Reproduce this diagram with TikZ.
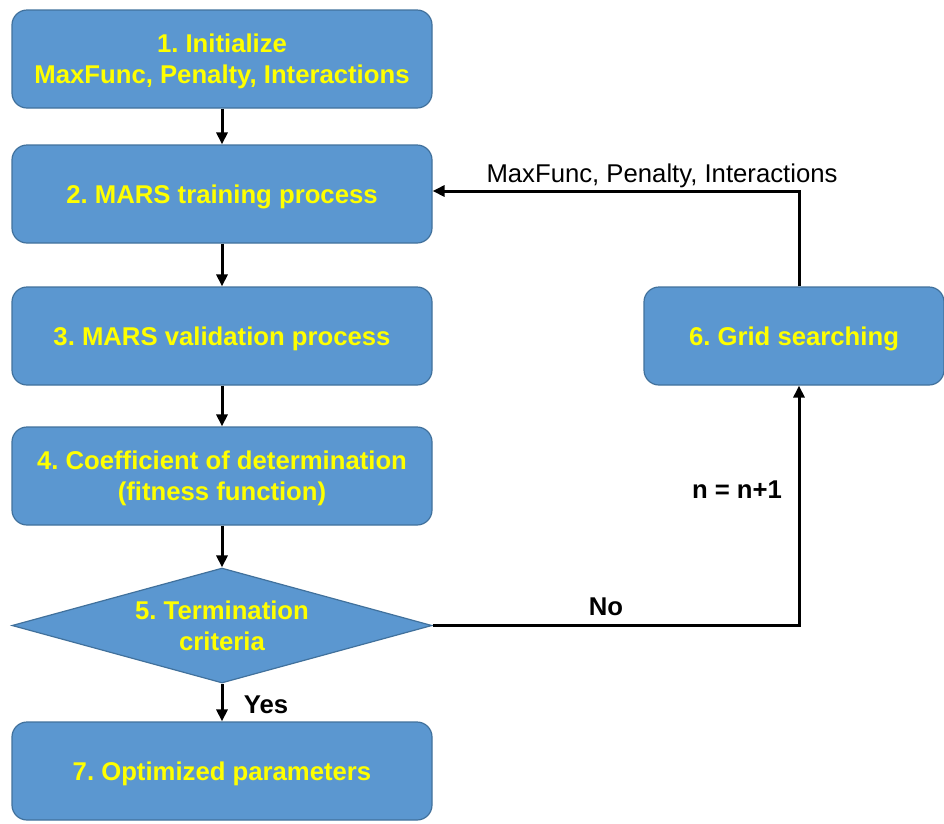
\documentclass[tikz,border=0pt]{standalone}
\usepackage{fontspec}
\setmainfont{Liberation Sans}
\usetikzlibrary{shapes.geometric,arrows.meta}
\definecolor{boxfill}{HTML}{5B97D0}
\definecolor{boxline}{HTML}{41719C}
\definecolor{txtyellow}{HTML}{FFFF00}
\frenchspacing
\begin{document}
\begin{tikzpicture}[x=1pt,y=-1pt,
  procbox/.style={draw=boxline,line width=1.2pt,fill=boxfill,rounded corners=15pt,
    minimum width=420pt,minimum height=98pt,inner sep=0pt,text depth=0pt,
    text=txtyellow,font=\fontsize{25.7}{31}\selectfont\bfseries\frenchspacing,align=center},
  decbox/.style={diamond,draw=boxline,line width=1.2pt,fill=boxfill,
    minimum width=420pt,minimum height=115pt,inner sep=0pt,aspect=3.65,text depth=0pt,
    text=txtyellow,font=\fontsize{25.7}{31}\selectfont\bfseries\frenchspacing,align=center},
  conn/.style={line width=3pt,-{Triangle[length=12pt,width=11pt]}},
  blabel/.style={font=\fontsize{25.7}{31}\selectfont\bfseries,text=black,inner sep=0pt},
  rlabel/.style={font=\fontsize{25.7}{31}\selectfont,text=black,inner sep=0pt}]
\useasboundingbox (0,0) rectangle (944,823);
\node[procbox] (b1) at (222,59) {1. Initialize\\MaxFunc, Penalty, Interactions};
\node[procbox] (b2) at (222,194) {2. MARS training process};
\node[procbox] (b3) at (222,336) {3. MARS validation process};
\node[procbox] (b4) at (222,476) {4. Coefficient of determination\\(fitness function)};
\node[decbox] (d5) at (222,625.5) {5. Termination\\criteria};
\node[procbox] (b7) at (222,771) {7. Optimized parameters};
\node[procbox,minimum width=300pt] (b6) at (794,336) {6. Grid searching};
\draw[conn] (b1.south) -- (b2.north);
\draw[conn] (b2.south) -- (b3.north);
\draw[conn] (b3.south) -- (b4.north);
\draw[conn] (b4.south) -- (d5.north);
\draw[conn] (d5.south) -- (b7.north);
\draw[conn] (d5.east) -| ([xshift=5pt]b6.south);
\draw[conn] ([xshift=5pt]b6.north) |- ([yshift=3pt]b2.east);
\node[rlabel] (lab1) at (662,176) {MaxFunc, Penalty, Interactions};
\node[blabel] (lab2) at (606,607) {No};
\node[blabel] (lab3) at (737,490) {n = n+1};
\node[blabel] (lab4) at (266,705) {Yes};
\end{tikzpicture}
\end{document}
